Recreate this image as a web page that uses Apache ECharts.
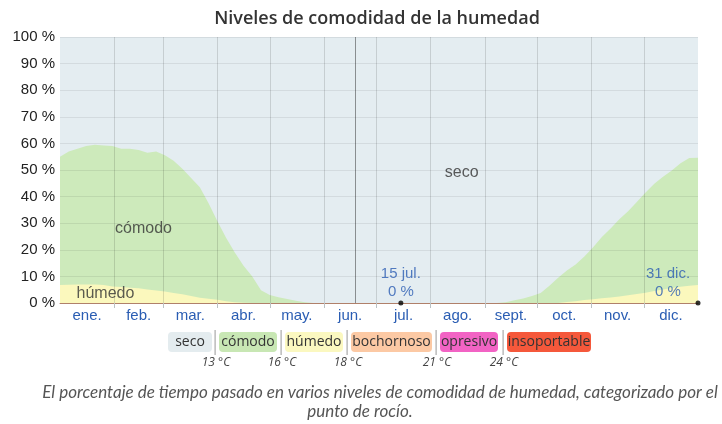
<!DOCTYPE html>
<html>
<head>
<meta charset="utf-8">
<script src="https://cdn.jsdelivr.net/npm/echarts@6/dist/echarts.min.js"></script>
<style>
html,body{margin:0;padding:0;background:#fff;}
#chart{width:722px;height:424px;}
</style>
</head>
<body>
<div id="chart"></div>
<script>
// ---- data ----
var days = [0,5,10,15,20,25,30,35,40,45,50,55,60,65,70,75,80,85,90,95,100,105,110,115,120,125,130,135,140,145,
  250,255,260,265,270,275,280,285,290,295,300,305,310,315,320,325,330,335,340,345,350,355,360,365];
// % húmedo
var humedo = [6.8,6.9,7.0,7.0,7.0,6.8,6.2,6.0,5.7,5.5,5.1,4.7,4.3,3.8,3.3,2.6,2.0,1.6,1.2,0.7,0.3,0.1,0,0,0,0,0,0,0,0,
  0,0,0,0,0,0,0,0,0.4,0.7,1.1,1.4,1.8,2.1,2.4,2.9,3.4,3.9,4.5,5.1,5.6,6.1,6.5,6.8];
// % cómodo
var comodo = [48.2,50.1,51.0,52.0,52.5,52.4,52.8,52.0,52.3,52.0,51.4,52.3,51.2,49.7,47.2,44.4,41.5,35.9,29.6,23.8,18.7,13.9,10.0,4.8,3.0,2.2,1.5,0.8,0.3,0,
  0,0.3,1.0,1.7,2.6,3.8,6.5,9.5,11.8,13.8,16.4,19.6,23.0,25.9,29.1,31.6,34.6,37.6,40.3,42.4,44.2,46.4,48.0,47.8];
var monthStarts = [31,59,90,120,151,181,212,243,273,304,334];
var monthMids = [15.5,45,74.5,105,135.5,166,196.5,227.5,258,288.5,319,349.5];
var monthNames = ['ene.','feb.','mar.','abr.','may.','jun.','jul.','ago.','sept.','oct.','nov.','dic.'];
var markerDay = 169;
var annDays = [195, 365];
var annValues = [0, 0];
var annLabels = ['15 jul.', '31 dic.'];
var areaLabels = ['cómodo', 'húmedo', 'seco'];
var areaLabelPos = [[47.8, 27.8], [26, 3.4], [229.8, 48.9]];
var legendNames = ['seco','cómodo','húmedo','bochornoso','opresivo','insoportable'];
var legendColors = ['#e4ecef','#c8e7b4','#fbf8c0','#fcc9a4','#f263c4','#f5583b'];
var legendTemps = ['13 °C','16 °C','18 °C','21 °C','24 °C'];
var titleText = 'Niveles de comodidad de la humedad';
var captionLines = ['El porcentaje de tiempo pasado en varios niveles de comodidad de humedad, categorizado por el', 'punto de rocío.'];

// ---- build ----
var topHumedo = days.map(function(d,i){ return [d, humedo[i]]; });
var topComodo = days.map(function(d,i){ return [d, +(humedo[i] + comodo[i]).toFixed(2)]; });

var chart = echarts.init(document.getElementById('chart'), null, {renderer:'canvas'});
var FONT = '"Liberation Sans", Arial, sans-serif';

var lg = [];
var boxX = [168, 219, 285, 351, 440, 507];
var boxW = [44, 58, 58, 81, 58, 84];
var sepX = [215, 281, 347, 436, 503];
legendNames.forEach(function(n,i){
  lg.push({type:'rect', shape:{x:boxX[i], y:332, width:boxW[i], height:20, r:4}, style:{fill:legendColors[i]}});
  lg.push({type:'text', x:boxX[i]+boxW[i]/2, y:342, style:{text:n, align:'center', verticalAlign:'middle', fill:'#333', font:'14px "Open Sans", sans-serif'}});
});
sepX.forEach(function(x,i){
  lg.push({type:'rect', shape:{x:x-0.5, y:330, width:1.2, height:25}, style:{fill:'#aaa'}});
  lg.push({type:'text', x:x+1, y:363, style:{text:legendTemps[i], align:'center', verticalAlign:'middle', fill:'#444', font:'italic 12px "Open Sans", sans-serif'}});
});
lg.push({type:'text', x:377, y:19, style:{text:titleText, align:'center', verticalAlign:'middle', fill:'#333', font:'600 18px "Open Sans", sans-serif'}});
lg.push({type:'text', x:380, y:393, style:{text:captionLines[0], align:'center', verticalAlign:'middle', fill:'#555', font:'italic 17px Lato, sans-serif'}});
lg.push({type:'text', x:360, y:412, style:{text:captionLines[1], align:'center', verticalAlign:'middle', fill:'#555', font:'italic 17px Lato, sans-serif'}});

var annLabelStyle = {show:true, position:'top', distance:0, color:'#2a5db3', fontSize:15, lineHeight:18, align:'center', fontFamily:FONT};

var option = {
  animation:false,
  grid:{left:60, right:24, top:37, bottom:121, show:true, backgroundColor:'#e4edf1', borderWidth:0},
  xAxis:{
    type:'value', min:0, max:365, z:3,
    splitLine:{show:false},
    axisLine:{show:true, onZero:false, lineStyle:{color:'#b0806a', width:1}},
    axisTick:{show:true, customValues:monthStarts, length:5, lineStyle:{color:'#bcc2c4'}},
    axisLabel:{customValues:monthMids, color:'#2a5db3', fontSize:15, margin:5, fontFamily:FONT,
      formatter:function(v){ var k = monthMids.indexOf(v); return k>=0 ? monthNames[k] : ''; }}
  },
  yAxis:{
    type:'value', min:0, max:100, interval:10, z:3,
    axisLine:{show:false}, axisTick:{show:false},
    splitLine:{show:true, lineStyle:{color:'rgba(0,0,0,0.075)', width:1}},
    axisLabel:{formatter:'{value} %', color:'#222', fontSize:15, margin:5, fontFamily:FONT}
  },
  graphic: lg,
  series:[
    {name:'cómodo', type:'line', data:topComodo, symbol:'none', lineStyle:{width:0}, areaStyle:{color:'#cdeabb', opacity:1}, z:1},
    {name:'húmedo', type:'line', data:topHumedo, symbol:'none', lineStyle:{width:0}, areaStyle:{color:'#fbf8bd', opacity:1}, z:2},
    {type:'scatter', data:areaLabelPos.map(function(p,i){ return {value:p, label:{formatter:areaLabels[i]}}; }),
      symbolSize:0, silent:true, z:4,
      label:{show:true, position:'inside', color:'#333', fontSize:16, fontFamily:FONT}},
    {type:'scatter', data:annDays.map(function(d,i){
        return {value:[d, annValues[i]], label:Object.assign({}, annLabelStyle, {formatter: annLabels[i] + '\n' + annValues[i] + ' %', offset: i === annDays.length-1 ? [-30,0] : [0,0]})};
      }),
      symbol:'circle', symbolSize:5, itemStyle:{color:'#000'}, silent:true, z:6, clip:false,
      label:annLabelStyle,
      markLine:{silent:true, symbol:'none', label:{show:false},
        data: monthStarts.map(function(d){ return {xAxis:d, lineStyle:{color:'rgba(0,0,0,0.13)', width:1, type:'solid'}}; })
          .concat([{xAxis:markerDay, lineStyle:{color:'rgba(0,0,0,0.4)', width:1, type:'solid'}}])}
    }
  ]
};
chart.setOption(option);
</script>
</body>
</html>
